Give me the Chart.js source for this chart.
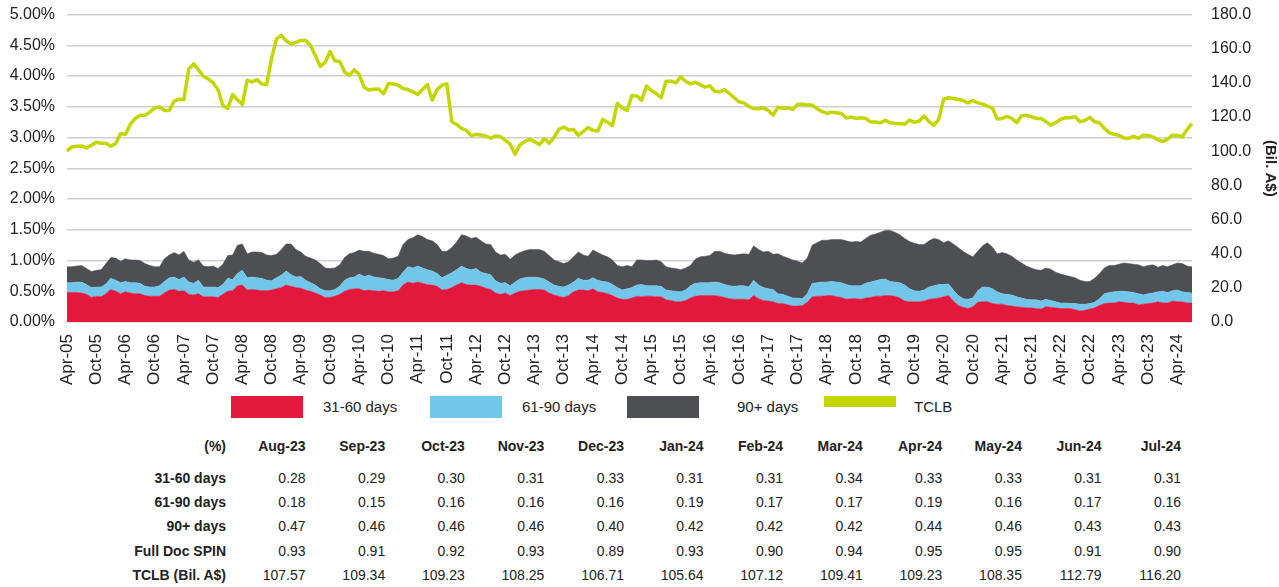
<!DOCTYPE html>
<html>
<head>
<meta charset="utf-8">
<script src="https://cdn.jsdelivr.net/npm/chart.js@4.4.1/dist/chart.umd.min.js"></script>
<style>
  html, body { margin: 0; padding: 0; background: #fff; }
  body { width: 1279px; height: 587px; position: relative; overflow: hidden;
         font-family: 'Liberation Sans', Arial, sans-serif; color: #222; }
  #chartBox { position: absolute; left: 0; top: -7px; width: 1279px; height: 392px; }
  .lg-box { position: absolute; width: 72px; height: 22px; top: 396px; }
  .lg-txt { position: absolute; top: 396px; height: 22px; line-height: 22px; font-size: 15px; }
  #tbl { position: absolute; left: 0; top: 434px; border-collapse: collapse; font-size: 14px; }
  #tbl td, #tbl th { padding: 0; text-align: right; white-space: nowrap; }
  #tbl th { font-weight: bold; height: 24px; }
  #tbl td { height: 24.2px; }
  #tbl td.lbl { font-weight: bold; }
</style>
</head>
<body>
<div id="chartBox"><canvas id="chart"></canvas></div>
<div id="legend"></div>
<table id="tbl"><colgroup id="cols"></colgroup><thead id="thead"></thead><tbody id="tbody"></tbody></table>

<script>
'use strict';

/* 월 라벨 (Apr-05 ~ Jul-24) */
const MONTH_NAMES = ['Jan','Feb','Mar','Apr','May','Jun','Jul','Aug','Sep','Oct','Nov','Dec'];
const START_YEAR  = 2005;
const START_MONTH = 3; // Apr

/* 31-60 days (%) */
const S31 = [
  0.48,0.48,0.48,0.47,0.45,0.40,0.42,0.41,0.46,0.53,
  0.50,0.46,0.49,0.47,0.46,0.46,0.43,0.42,0.42,0.42,
  0.47,0.52,0.53,0.50,0.51,0.45,0.44,0.46,0.41,0.41,
  0.41,0.40,0.45,0.50,0.51,0.59,0.60,0.52,0.53,0.52,
  0.51,0.51,0.52,0.54,0.56,0.60,0.58,0.56,0.55,0.52,
  0.50,0.47,0.44,0.40,0.40,0.42,0.45,0.50,0.53,0.54,
  0.54,0.51,0.52,0.51,0.50,0.51,0.49,0.49,0.51,0.60,
  0.65,0.63,0.65,0.63,0.61,0.60,0.58,0.52,0.53,0.56,
  0.60,0.64,0.61,0.60,0.60,0.58,0.55,0.53,0.47,0.45,
  0.47,0.43,0.47,0.50,0.51,0.52,0.53,0.53,0.52,0.47,
  0.44,0.42,0.40,0.43,0.49,0.52,0.52,0.51,0.54,0.49,
  0.48,0.46,0.43,0.39,0.37,0.37,0.39,0.42,0.41,0.42,
  0.42,0.41,0.41,0.36,0.35,0.33,0.33,0.35,0.39,0.42,
  0.43,0.43,0.43,0.43,0.42,0.40,0.38,0.37,0.37,0.37,
  0.36,0.43,0.38,0.35,0.34,0.33,0.30,0.30,0.28,0.26,
  0.26,0.27,0.32,0.41,0.42,0.42,0.43,0.43,0.41,0.40,
  0.37,0.38,0.38,0.37,0.39,0.40,0.42,0.42,0.43,0.43,
  0.42,0.39,0.34,0.33,0.33,0.33,0.34,0.37,0.38,0.39,
  0.41,0.43,0.34,0.27,0.24,0.22,0.25,0.32,0.33,0.33,
  0.30,0.29,0.29,0.27,0.26,0.25,0.24,0.23,0.23,0.22,
  0.21,0.25,0.24,0.23,0.22,0.22,0.22,0.20,0.18,0.19,
  0.21,0.23,0.27,0.30,0.31,0.31,0.33,0.32,0.31,0.31,
  0.28,0.29,0.30,0.31,0.33,0.31,0.31,0.34,0.33,0.33,0.31,0.31,
];

/* 61-90 days (%) */
const S61 = [
  0.16,0.16,0.17,0.18,0.16,0.16,0.15,0.16,0.16,0.18,
  0.18,0.18,0.17,0.17,0.18,0.17,0.15,0.15,0.15,0.17,
  0.19,0.20,0.20,0.19,0.22,0.20,0.19,0.22,0.16,0.16,
  0.16,0.16,0.16,0.21,0.18,0.20,0.24,0.20,0.20,0.20,
  0.20,0.17,0.15,0.18,0.20,0.23,0.19,0.17,0.19,0.16,
  0.14,0.13,0.10,0.11,0.11,0.11,0.13,0.18,0.19,0.19,
  0.24,0.23,0.24,0.22,0.22,0.20,0.20,0.19,0.20,0.21,
  0.25,0.25,0.26,0.25,0.24,0.23,0.21,0.20,0.23,0.24,
  0.25,0.27,0.26,0.25,0.27,0.23,0.24,0.24,0.20,0.18,
  0.17,0.16,0.18,0.20,0.21,0.21,0.20,0.19,0.18,0.18,
  0.16,0.16,0.17,0.17,0.16,0.19,0.16,0.17,0.18,0.19,
  0.18,0.19,0.18,0.17,0.15,0.17,0.17,0.18,0.20,0.17,
  0.17,0.18,0.17,0.16,0.16,0.17,0.16,0.17,0.20,0.21,
  0.21,0.21,0.21,0.22,0.22,0.21,0.21,0.21,0.22,0.22,
  0.21,0.25,0.22,0.21,0.20,0.20,0.16,0.15,0.14,0.13,
  0.13,0.11,0.14,0.22,0.22,0.23,0.22,0.23,0.24,0.24,
  0.24,0.21,0.21,0.22,0.24,0.25,0.25,0.27,0.27,0.23,
  0.23,0.25,0.26,0.21,0.18,0.17,0.18,0.20,0.21,0.22,
  0.20,0.19,0.18,0.16,0.14,0.15,0.14,0.19,0.24,0.24,
  0.24,0.20,0.17,0.18,0.18,0.16,0.15,0.14,0.13,0.14,
  0.13,0.12,0.11,0.10,0.09,0.09,0.08,0.10,0.11,0.10,
  0.09,0.09,0.11,0.16,0.17,0.18,0.17,0.18,0.18,0.17,
  0.18,0.15,0.16,0.16,0.16,0.19,0.17,0.17,0.19,0.16,0.17,0.16,
];

/* 90+ days (%) */
const S90 = [
  0.26,0.26,0.26,0.27,0.26,0.26,0.27,0.28,0.33,0.34,
  0.36,0.35,0.37,0.37,0.37,0.37,0.37,0.35,0.33,0.31,
  0.37,0.37,0.40,0.40,0.42,0.36,0.34,0.33,0.34,0.33,
  0.34,0.31,0.33,0.37,0.40,0.46,0.43,0.39,0.41,0.42,
  0.42,0.41,0.41,0.38,0.42,0.44,0.50,0.45,0.40,0.39,
  0.40,0.41,0.41,0.37,0.36,0.35,0.35,0.37,0.39,0.40,
  0.39,0.41,0.39,0.39,0.38,0.37,0.34,0.36,0.36,0.45,
  0.44,0.49,0.51,0.51,0.49,0.49,0.47,0.43,0.39,0.41,
  0.45,0.51,0.53,0.51,0.51,0.51,0.48,0.49,0.47,0.46,
  0.46,0.43,0.44,0.43,0.44,0.45,0.45,0.46,0.45,0.43,
  0.41,0.40,0.38,0.38,0.41,0.43,0.41,0.39,0.45,0.45,
  0.43,0.41,0.40,0.36,0.38,0.38,0.34,0.41,0.40,0.41,
  0.41,0.42,0.40,0.38,0.37,0.37,0.36,0.36,0.33,0.39,
  0.42,0.43,0.44,0.50,0.51,0.51,0.51,0.51,0.51,0.52,
  0.53,0.56,0.58,0.58,0.61,0.57,0.65,0.62,0.62,0.62,
  0.60,0.58,0.58,0.62,0.65,0.68,0.68,0.68,0.69,0.70,
  0.71,0.71,0.72,0.71,0.73,0.76,0.76,0.77,0.79,0.83,
  0.81,0.78,0.76,0.77,0.77,0.76,0.74,0.75,0.77,0.73,
  0.68,0.70,0.75,0.78,0.77,0.73,0.67,0.64,0.67,0.72,
  0.68,0.62,0.67,0.66,0.63,0.60,0.57,0.54,0.52,0.49,
  0.50,0.51,0.51,0.48,0.47,0.45,0.44,0.42,0.39,0.37,
  0.36,0.39,0.41,0.42,0.44,0.43,0.44,0.46,0.46,0.46,
  0.47,0.46,0.46,0.46,0.40,0.42,0.42,0.42,0.44,0.46,0.43,0.43,
];

/* TCLB (Bil. A$) */
const TCLB = [
  100.2,102.5,102.9,103.1,101.9,103.5,105.2,104.7,104.7,102.9,
  104.5,110.3,109.9,115.7,119.2,121.0,121.0,122.9,125.4,126.0,
  123.9,123.9,129.3,130.5,130.1,148.2,151.1,147.6,143.9,142.3,
  140.0,136.1,126.8,125.0,133.2,130.1,127.4,141.6,140.6,141.9,
  139.4,139.0,154.2,165.8,167.8,164.7,162.7,163.7,164.9,164.9,
  161.9,156.1,149.7,152.0,158.4,153.0,152.6,146.4,144.5,147.6,
  144.9,137.5,135.9,136.3,136.5,133.6,139.6,139.4,138.6,136.7,
  136.1,134.8,133.2,136.1,139.0,129.9,136.1,138.6,139.4,117.3,
  115.7,113.4,112.2,109.1,109.9,109.5,108.9,107.6,108.9,108.5,
  106.4,104.1,98.3,103.7,105.6,107.0,105.6,103.9,107.4,104.7,
  108.0,112.8,114.2,112.4,112.8,109.3,111.5,113.8,112.2,111.8,
  118.6,116.9,115.1,128.0,125.4,123.9,132.6,132.4,129.9,138.1,
  135.5,133.8,131.3,141.0,141.0,140.0,143.5,141.0,139.4,140.4,
  139.0,137.5,138.3,135.1,134.8,136.1,133.8,131.3,128.9,128.3,
  126.2,125.0,124.9,125.4,123.9,121.2,125.8,125.0,125.4,124.5,
  127.4,127.6,127.0,127.0,124.9,123.3,122.1,122.9,122.5,122.1,
  119.4,120.0,119.2,119.6,119.2,117.3,117.1,116.7,118.1,116.7,
  116.3,116.1,115.9,118.3,116.9,117.7,120.6,117.3,115.1,118.6,
  130.5,131.3,130.9,130.3,129.7,128.2,129.7,128.3,127.6,126.4,
  125.4,118.8,119.2,120.4,119.2,116.7,120.8,121.0,120.2,119.2,
  119.2,117.3,115.3,116.7,118.6,119.6,119.6,120.2,117.3,118.1,
  119.8,117.3,116.7,113.4,110.9,109.9,109.3,107.8,107.6,108.7,
  107.57,109.34,109.23,108.25,106.71,105.64,107.12,109.41,109.23,108.35,112.79,116.20,
];

/* 하단 표 */
const TBL_MONTHS = ['Aug-23','Sep-23','Oct-23','Nov-23','Dec-23','Jan-24','Feb-24','Mar-24','Apr-24','May-24','Jun-24','Jul-24'];
const TBL_31   = [0.28,0.29,0.30,0.31,0.33,0.31,0.31,0.34,0.33,0.33,0.31,0.31];
const TBL_61   = [0.18,0.15,0.16,0.16,0.16,0.19,0.17,0.17,0.19,0.16,0.17,0.16];
const TBL_90   = [0.47,0.46,0.46,0.46,0.40,0.42,0.42,0.42,0.44,0.46,0.43,0.43];
const TBL_SPIN = [0.93,0.91,0.92,0.93,0.89,0.93,0.90,0.94,0.95,0.95,0.91,0.90];
const TBL_TCLB = [107.57,109.34,109.23,108.25,106.71,105.64,107.12,109.41,109.23,108.35,112.79,116.20];

const COLORS = {
  d31 : '#e2183c',
  d61 : '#72c6ea',
  d90 : '#4d4f52',
  tclb: '#c4d600',
  grid: '#cfcfcf',
  text: '#222222',
};

const FONT = "'Liberation Sans', Arial, sans-serif";

function monthLabel(i) {
  const k = START_MONTH + i;
  return MONTH_NAMES[k % 12] + '-' + String(START_YEAR + Math.floor(k / 12)).slice(2);
}

/* ── 차트 ── */
function drawChart() {
  const labels = S31.map((_, i) => monthLabel(i));
  const area = (label, data, color, fill) => ({
    label, data, yAxisID: 'y', fill,
    backgroundColor: color, borderColor: color, borderWidth: 0.5,
    pointRadius: 0, tension: 0,
  });

  new Chart(document.getElementById('chart'), {
    type: 'line',
    data: {
      labels,
      datasets: [
        area('31-60 days', S31, COLORS.d31, 'origin'),
        area('61-90 days', S61, COLORS.d61, '-1'),
        area('90+ days',   S90, COLORS.d90, '-1'),
        {
          label: 'TCLB', data: TCLB, yAxisID: 'y1', fill: false,
          borderColor: COLORS.tclb, borderWidth: 3.5, pointRadius: 0, tension: 0,
          borderJoinStyle: 'round',
        },
      ],
    },
    options: {
      responsive: true, maintainAspectRatio: false, animation: false,
      layout: { padding: { top: 6, left: 0, right: 0, bottom: 0 } },
      plugins: { legend: { display: false }, tooltip: { enabled: false } },
      scales: {
        x: {
          grid: { display: false }, border: { display: false },
          ticks: {
            autoSkip: false, minRotation: 90, maxRotation: 90, padding: 4,
            color: COLORS.text, font: { family: FONT, size: 17 },
            callback: (v, i) => (i % 6 === 0 ? labels[i] : ''),
          },
          afterFit: s => { s.height = 63; },
        },
        y: {
          position: 'left', stacked: true, min: 0, max: 5,
          grid: { color: COLORS.grid, lineWidth: 1.5, drawTicks: false },
          border: { display: false },
          ticks: {
            stepSize: 0.5, padding: 12, color: COLORS.text, font: { family: FONT, size: 16 },
            callback: v => v.toFixed(2) + '%',
          },
          afterFit: s => { s.width = 67; },
        },
        y1: {
          position: 'right', min: 0, max: 180,
          grid: { display: false }, border: { display: false },
          ticks: {
            stepSize: 20, padding: 11, color: COLORS.text, font: { family: FONT, size: 16 },
            callback: v => v.toFixed(1),
          },
          title: {
            display: true, text: '(Bil. A$)', color: COLORS.text,
            font: { family: FONT, size: 15, weight: 'bold' }, padding: { top: 0, bottom: 8 },
          },
          afterFit: s => { s.width = 87; },
        },
      },
    },
  });
}

/* ── 범례 ── */
function drawLegend() {
  const items = [
    { text: '31-60 days', color: COLORS.d31,  box: 231, txt: 323 },
    { text: '61-90 days', color: COLORS.d61,  box: 430, txt: 522 },
    { text: '90+ days',   color: COLORS.d90,  box: 627, txt: 737 },
    { text: 'TCLB',       color: COLORS.tclb, box: 824, txt: 914, thin: true },
  ];
  document.getElementById('legend').innerHTML = items.map(it =>
    `<div class="lg-box" style="left:${it.box}px;background:${it.color};${it.thin ? 'height:11px;' : ''}"></div>
     <div class="lg-txt" style="left:${it.txt}px;">${it.text}</div>`).join('');
}

/* ── 표 ── */
function drawTable() {
  const fmt = v => v.toFixed(2);
  document.getElementById('cols').innerHTML =
    '<col style="width:226px">' + TBL_MONTHS.map(() => '<col style="width:79.6px">').join('');
  document.getElementById('thead').innerHTML =
    '<tr><th>(%)</th>' + TBL_MONTHS.map(m => `<th>${m}</th>`).join('') + '</tr>';
  const rows = [
    ['31-60 days', TBL_31],
    ['61-90 days', TBL_61],
    ['90+ days', TBL_90],
    ['Full Doc SPIN', TBL_SPIN],
    ['TCLB (Bil. A$)', TBL_TCLB],
  ];
  document.getElementById('tbody').innerHTML =
    '<tr><td colspan="13" style="height:8px"></td></tr>' +
    rows.map(([name, vals]) =>
      `<tr><td class="lbl">${name}</td>${vals.map(v => `<td>${fmt(v)}</td>`).join('')}</tr>`).join('');
}

document.addEventListener('DOMContentLoaded', () => {
  drawChart();
  drawLegend();
  drawTable();
});
</script>
</body>
</html>
